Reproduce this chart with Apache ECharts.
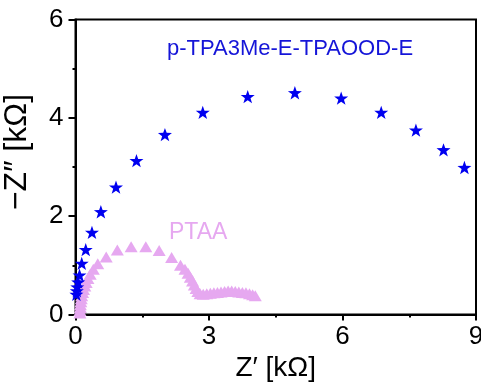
<!DOCTYPE html>
<html>
<head>
<meta charset="utf-8">
<script src="https://cdn.jsdelivr.net/npm/echarts@6/dist/echarts.min.js"></script>
<style>html,body{margin:0;padding:0;background:#fff;}#c{width:481px;height:392px;}</style>
</head>
<body>
<div id="c"></div>
<script>
// Data (Z' in kΩ, -Z'' in kΩ)
var tpaX = [8.74, 8.27, 7.65, 6.87, 5.97, 4.93, 3.87, 2.86, 2.01, 1.37, 0.91, 0.57, 0.37, 0.23, 0.14, 0.09, 0.06, 0.04, 0.03, 0.02];
var tpaY = [2.99, 3.35, 3.75, 4.11, 4.40, 4.51, 4.43, 4.11, 3.66, 3.13, 2.59, 2.09, 1.67, 1.32, 1.04, 0.80, 0.66, 0.56, 0.48, 0.41];

var ptaaX = [0.10, 0.10, 0.11, 0.11, 0.12, 0.13, 0.14, 0.16, 0.18, 0.21, 0.24, 0.28, 0.33, 0.40, 0.50, 0.69, 0.94, 1.25, 1.58, 1.88, 2.16, 2.36, 2.46, 2.53, 2.58, 2.63, 2.67, 2.71, 2.75, 2.80, 2.87, 2.95, 3.03, 3.11, 3.19, 3.27, 3.35, 3.43, 3.51, 3.59, 3.67, 3.75, 3.83, 3.91, 3.98, 4.04];
var ptaaY = [0.03, 0.08, 0.14, 0.20, 0.26, 0.32, 0.38, 0.45, 0.51, 0.58, 0.65, 0.73, 0.82, 0.92, 1.03, 1.17, 1.31, 1.38, 1.38, 1.30, 1.16, 1.00, 0.92, 0.84, 0.76, 0.68, 0.60, 0.53, 0.47, 0.42, 0.41, 0.42, 0.43, 0.44, 0.45, 0.46, 0.47, 0.48, 0.48, 0.47, 0.46, 0.45, 0.44, 0.42, 0.40, 0.38];

var xTicks = [0, 3, 6, 9];
var yTicks = [0, 2, 4, 6];
var seriesNames = ['PTAA', 'p-TPA3Me-E-TPAOOD-E'];

function pairs(xs, ys) { return xs.map(function (v, i) { return [v, ys[i]]; }); }

var FONT = 'Liberation Sans, Arial, Helvetica, sans-serif';
var BLUE = '#0000f0';
var PINK = '#e6a8f0';
var star = 'path://M0,-10 L2.35,-3.24 L9.51,-3.09 L3.8,1.24 L5.88,8.09 L0,4 L-5.88,8.09 L-3.8,1.24 L-9.51,-3.09 L-2.35,-3.24 Z';

var chart = echarts.init(document.getElementById('c'), null, { renderer: 'canvas' });
chart.setOption({
  animation: false,
  backgroundColor: '#ffffff',
  grid: { left: 75.5, right: 5, top: 19.5, bottom: 77.5, containLabel: false, outerBoundsMode: 'none', show: true, borderColor: '#000', borderWidth: 2, backgroundColor: 'transparent' },
  xAxis: {
    type: 'value', min: xTicks[0], max: xTicks[xTicks.length - 1], interval: 3,
    name: 'Z′ [kΩ]', nameLocation: 'middle', nameGap: 40,
    nameTextStyle: { fontFamily: FONT, fontSize: 28, color: '#000' },
    axisLine: { lineStyle: { color: '#000', width: 2 } },
    axisTick: { inside: false, length: 6, lineStyle: { color: '#000', width: 2 } },
    minorTick: { show: true, splitNumber: 2, length: 3, lineStyle: { color: '#000', width: 2 } },
    axisLabel: { fontFamily: FONT, fontSize: 26, color: '#000', margin: 9, formatter: function (v) { return xTicks.indexOf(v) >= 0 ? String(v) : ''; } },
    splitLine: { show: false }
  },
  yAxis: {
    type: 'value', min: yTicks[0], max: yTicks[yTicks.length - 1], interval: 2,
    name: '−Z″ [kΩ]', nameLocation: 'middle', nameGap: 42, nameRotate: 90,
    nameTextStyle: { fontFamily: FONT, fontSize: 32, color: '#000', padding: [0, 0, 0, 30] },
    axisLine: { lineStyle: { color: '#000', width: 2 } },
    axisTick: { inside: false, length: 7, lineStyle: { color: '#000', width: 2 } },
    minorTick: { show: true, splitNumber: 2, length: 3, lineStyle: { color: '#000', width: 2 } },
    axisLabel: { fontFamily: FONT, fontSize: 26, color: '#000', margin: 12, formatter: function (v) { return yTicks.indexOf(v) >= 0 ? String(v) : ''; } },
    splitLine: { show: false }
  },
  graphic: [
    { type: 'text', left: 167, top: 38, style: { text: seriesNames[1], fontFamily: FONT, fontSize: 22, fill: '#1515d8' } },
    { type: 'text', left: 169, top: 221, style: { text: seriesNames[0], fontFamily: FONT, fontSize: 23, fill: PINK } }
  ],
  series: [
    { name: seriesNames[0], type: 'scatter', data: pairs(ptaaX, ptaaY), symbol: 'triangle', symbolSize: [13, 11], itemStyle: { color: PINK, opacity: 1 }, clip: false, z: 2 },
    { name: seriesNames[1], type: 'scatter', data: pairs(tpaX, tpaY), symbol: star, symbolKeepAspect: true, symbolSize: 14, itemStyle: { color: BLUE, opacity: 1 }, clip: false, z: 3 }
  ]
});
</script>
</body>
</html>
